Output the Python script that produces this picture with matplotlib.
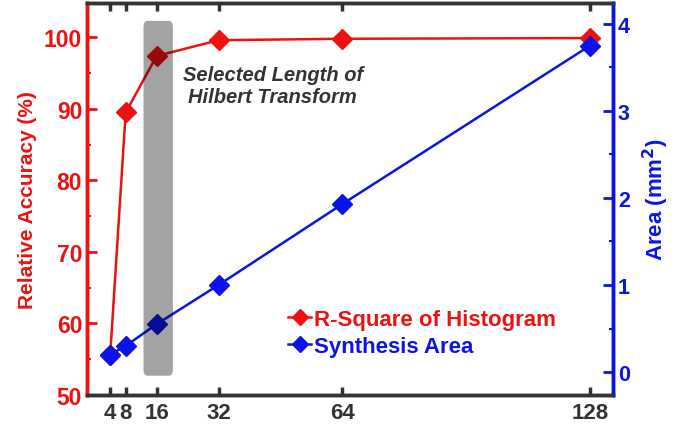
import matplotlib.pyplot as plt
from matplotlib.patches import FancyBboxPatch
from matplotlib.ticker import MultipleLocator

plt.rcParams['font.family'] = ['Liberation Sans', 'DejaVu Sans']
plt.rcParams['font.weight'] = 'bold'
plt.rcParams['axes.labelweight'] = 'bold'
plt.rcParams['mathtext.default'] = 'bf'

# data
lengths = [4, 8, 16, 32, 64, 128]
r_square = [55.6, 89.5, 97.4, 99.6, 99.8, 99.9]
area = [0.2, 0.3, 0.55, 1.0, 1.93, 3.75]
xtick_labels = ['4', '8', '16', '32', '64', '128']

RED = '#ee1111'
BLUE = '#0a14e6'
DARK = '#333333'

fig = plt.figure(figsize=(6.96, 4.27), dpi=100)
ax = fig.add_axes([0.125, 0.0726, 0.756, 0.918])
ax2 = ax.twinx()

l1, = ax.plot(lengths, r_square, color=RED, lw=1.8, marker='D', ms=10.5,
              label='R-Square of Histogram', zorder=3)
l2, = ax2.plot(lengths, area, color=BLUE, lw=1.8, marker='D', ms=10.5,
               label='Synthesis Area', zorder=3)

ax.set_xlim(-2, 134)
ax.set_ylim(50, 104.8)
ax2.set_ylim(-0.264, 4.24)

# grey band marking the chosen length, drawn over the markers
band = FancyBboxPatch((12.6, 52.7), 7.6, 49.6, boxstyle='round,pad=0,rounding_size=1.0',
                      mutation_aspect=0.9, facecolor='black', edgecolor='none',
                      alpha=0.36, zorder=5)
ax2.add_patch(band)
band.set_transform(ax.transData)

ax.text(46, 93.2, 'Selected Length of\nHilbert Transform', ha='center', va='center',
        fontsize=14.5, style='italic', fontweight='bold', color=DARK, linespacing=1.2)

ax.set_xticks(lengths)
ax.set_xticklabels(xtick_labels)
ax.tick_params(axis='x', direction='in', top=True, length=6, width=2.5,
               colors=DARK, labelsize=16, pad=5)

ax.yaxis.set_major_locator(MultipleLocator(10))
ax.yaxis.set_minor_locator(MultipleLocator(5))
ax.tick_params(axis='y', which='major', direction='in', length=7, width=2,
               colors=RED, labelsize=16.5)
ax.tick_params(axis='y', which='minor', direction='in', length=3, width=1.5, colors=RED)
ax2.yaxis.set_major_locator(MultipleLocator(1))
ax2.yaxis.set_minor_locator(MultipleLocator(0.5))
ax2.tick_params(axis='y', which='major', direction='in', length=7, width=2,
                colors=BLUE, labelsize=15.5)
ax2.tick_params(axis='y', which='minor', direction='in', length=3, width=1.5, colors=BLUE)

ax.set_ylabel('Relative Accuracy (%)', color=RED, fontsize=15, labelpad=5)
ax2.set_ylabel('Area (mm$^{2}$)', color=BLUE, fontsize=16, labelpad=8)

for a in (ax, ax2):
    for side in ('top', 'bottom'):
        a.spines[side].set_color(DARK)
        a.spines[side].set_linewidth(2.5)
    a.spines['left'].set_color(RED)
    a.spines['right'].set_color(BLUE)
    a.spines['left'].set_linewidth(2.5)
    a.spines['right'].set_linewidth(2.5)

leg = ax.legend([l1, l2], ['R-Square of Histogram', 'Synthesis Area'],
                loc='lower left', bbox_to_anchor=(0.366, 0.075), frameon=False,
                fontsize=16, handlelength=1.0, handletextpad=0.15, labelspacing=0.25,
                markerscale=0.75, borderaxespad=0)
for txt, c in zip(leg.get_texts(), (RED, BLUE)):
    txt.set_color(c)

fig.savefig('out.png', dpi=100)
